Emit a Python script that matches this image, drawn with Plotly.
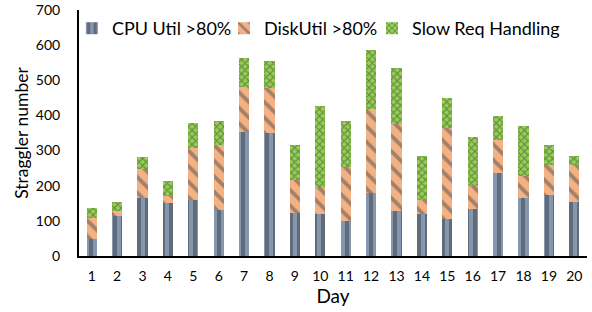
import plotly.graph_objects as go

days = list(range(1, 21))
cpu_util = [47, 115, 164, 150, 159, 131, 354, 349, 123, 119, 101, 180, 128, 119, 106, 133, 237, 164, 175, 155]
disk_util = [62, 13, 83, 21, 149, 184, 126, 130, 93, 75, 151, 238, 247, 41, 259, 66, 93, 64, 83, 103]
slow_req = [29, 25, 34, 42, 70, 70, 83, 75, 99, 234, 132, 169, 159, 125, 85, 140, 67, 142, 57, 27]
y_ticks = [0, 100, 200, 300, 400, 500, 600, 700]

FONT = "Lato"
DARK = "#404040"

fig = go.Figure()
fig.add_trace(go.Bar(
    x=days, y=cpu_util, name="CPU Util >80%", width=0.4, legend="legend",
    marker=dict(color="#8497B0", line=dict(width=0),
                pattern=dict(shape="|", fgcolor=DARK, bgcolor="#8497B0",
                             size=8, solidity=0.5, fillmode="overlay")),
))
fig.add_trace(go.Bar(
    x=days, y=disk_util, name="DiskUtil >80%", width=0.4, legend="legend2",
    marker=dict(color="#F4B183", line=dict(width=0),
                pattern=dict(shape="\\", fgcolor="#505050", bgcolor="#F4B183",
                             size=11, solidity=0.35, fillmode="overlay")),
))
fig.add_trace(go.Bar(
    x=days, y=slow_req, name="Slow Req Handling", width=0.4, legend="legend3",
    marker=dict(color="#92D050", line=dict(width=0),
                pattern=dict(shape="x", fgcolor=DARK, bgcolor="#92D050",
                             size=5, solidity=0.4, fillmode="overlay")),
))

leg_common = dict(orientation="h", y=1.0, xanchor="left", yanchor="top",
                  bgcolor="rgba(0,0,0,0)", font=dict(size=18, family=FONT),
                  itemwidth=30)

fig.update_layout(
    barmode="stack",
    width=592, height=312,
    margin=dict(l=79, r=5, t=10, b=56, autoexpand=False),
    paper_bgcolor="white", plot_bgcolor="white",
    font=dict(family=FONT, color="#000000"),
    showlegend=True,
    legend=dict(x=-0.014, **leg_common),
    legend2=dict(x=0.2854, **leg_common),
    legend3=dict(x=0.5768, **leg_common),
    xaxis=dict(range=[0.5, 20.5], tickmode="array", tickvals=days,
               ticktext=[str(d) for d in days],
               showline=True, linecolor="black", linewidth=2,
               showgrid=False, zeroline=False, ticks="",
               ticklabelstandoff=6, automargin=False,
               tickfont=dict(size=14, family=FONT),
               title=dict(text="Day", font=dict(size=19, family=FONT), standoff=2)),
    yaxis=dict(range=[0, 700], tickmode="array", tickvals=y_ticks,
               showline=True, linecolor="black", linewidth=2,
               showgrid=False, zeroline=False, ticks="",
               ticklabelstandoff=14, automargin=False,
               tickfont=dict(size=14, family=FONT),
               title=dict(text="Straggler number", font=dict(size=17.5, family=FONT), standoff=3)),
)

fig.write_html("out.html", config={"displayModeBar": False},
               post_script="document.body.style.margin='0px';")
